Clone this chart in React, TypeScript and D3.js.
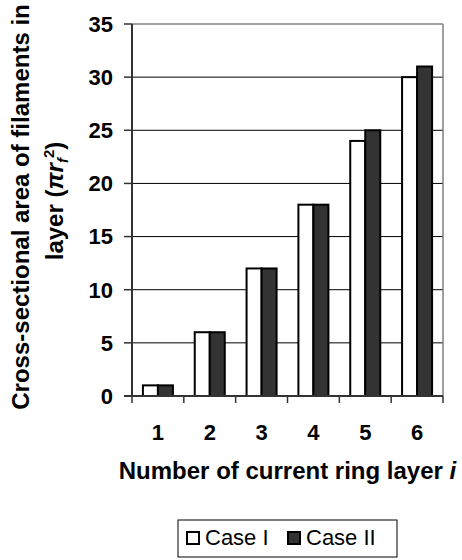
import React from "react";
import * as d3 from "d3";

const categories = ["1", "2", "3", "4", "5", "6"];
const seriesNames = ["Case I", "Case II"];
const caseI = [1, 6, 12, 18, 24, 30];
const caseII = [1, 6, 12, 18, 25, 31];
const yTicks = [0, 5, 10, 15, 20, 25, 30, 35];
const seriesFill = ["#ffffff", "#333333"];

const W = 462;
const H = 560;
const FONT = "'Liberation Sans', Arial, sans-serif";

export default function App() {
  const x = d3.scaleBand<string>().domain(categories).range([132, 443]).paddingInner(0).paddingOuter(0);
  const xs = d3.scaleBand<string>().domain(seriesNames).range([0, x.bandwidth()]).paddingInner(0).paddingOuter(0.727);
  const y = d3.scaleLinear().domain([0, 35]).range([396, 24]);
  const values = [caseI, caseII];
  const [x0, x1] = x.range();
  const bounds = categories.map((c) => x(c)!).concat([x1]);

  return (
    <div style={{ position: "absolute", left: 0, top: 0 }}>
      <svg width={W} height={H} style={{ display: "block", background: "#fff" }} fontFamily={FONT}>
        {/* gridlines */}
        {yTicks.filter((t) => t > 0 && t < 35).map((t) => (
          <line key={"g" + t} x1={x0} x2={x1} y1={y(t)} y2={y(t)} stroke="#000" strokeWidth={1} />
        ))}
        {/* plot border top/right */}
        <line x1={x0} x2={x1} y1={y(35)} y2={y(35)} stroke="#808080" strokeWidth={1.5} />
        <line x1={x1} x2={x1} y1={y(35)} y2={y(0)} stroke="#808080" strokeWidth={1.5} />
        {/* bars */}
        {values.map((vals, si) =>
          vals.map((v, i) => (
            <rect
              key={si + "-" + i}
              x={x(categories[i])! + xs(seriesNames[si])!}
              y={y(v)}
              width={xs.bandwidth()}
              height={y(0) - y(v)}
              fill={seriesFill[si]}
              stroke="#000"
              strokeWidth={2}
            />
          ))
        )}
        {/* y axis */}
        <line x1={x0} x2={x0} y1={y(35)} y2={y(0)} stroke="#333" strokeWidth={2} />
        {yTicks.map((t) => (
          <g key={"yt" + t}>
            <line x1={x0 - 8} x2={x0} y1={y(t)} y2={y(t)} stroke="#333" strokeWidth={1.5} />
            <text x={113} y={y(t)} dy="0.36em" textAnchor="end" fontSize={22} fontWeight="bold" fill="#000">
              {t}
            </text>
          </g>
        ))}
        {/* x axis */}
        <line x1={x0 - 8} x2={x1} y1={y(0)} y2={y(0)} stroke="#333" strokeWidth={2} />
        {bounds.map((b, i) => (
          <line key={"xt" + i} x1={b} x2={b} y1={y(0)} y2={y(0) + 7} stroke="#333" strokeWidth={1.5} />
        ))}
        {categories.map((c) => (
          <text key={"xl" + c} x={x(c)! + x.bandwidth() / 2} y={440} textAnchor="middle" fontSize={22} fontWeight="bold">
            {c}
          </text>
        ))}
        {/* x title */}
        <text x={(x0 + x1) / 2} y={479} textAnchor="middle" fontSize={24} fontWeight="bold">
          Number of current ring layer <tspan fontStyle="italic">i</tspan>
        </text>
        {/* y title */}
        <text transform="rotate(-90)" x={-207} y={29} textAnchor="middle" fontSize={24} fontWeight="bold">
          Cross-sectional area of filaments in
        </text>
        <text transform="rotate(-90)" x={-201} y={63} textAnchor="middle" fontSize={24} fontWeight="bold">
          layer (<tspan fontStyle="italic">πr</tspan>
          <tspan fontStyle="italic" fontSize={15} dy={5}>f</tspan>
          <tspan fontSize={15} dy={-14}>2</tspan>
          <tspan dy={9}>)</tspan>
        </text>
        {/* legend */}
        <rect x={178} y={520} width={219} height={37} fill="#fff" stroke="#000" strokeWidth={1} />
        {seriesNames.map((s, i) => {
          const lx = i === 0 ? 187 : 288;
          return (
            <g key={"lg" + s}>
              <rect x={lx} y={532} width={12} height={12} fill={seriesFill[i]} stroke="#000" strokeWidth={2} />
              <text x={lx + 18} y={545} fontSize={22} fill="#000">
                {s}
              </text>
            </g>
          );
        })}
      </svg>
    </div>
  );
}
